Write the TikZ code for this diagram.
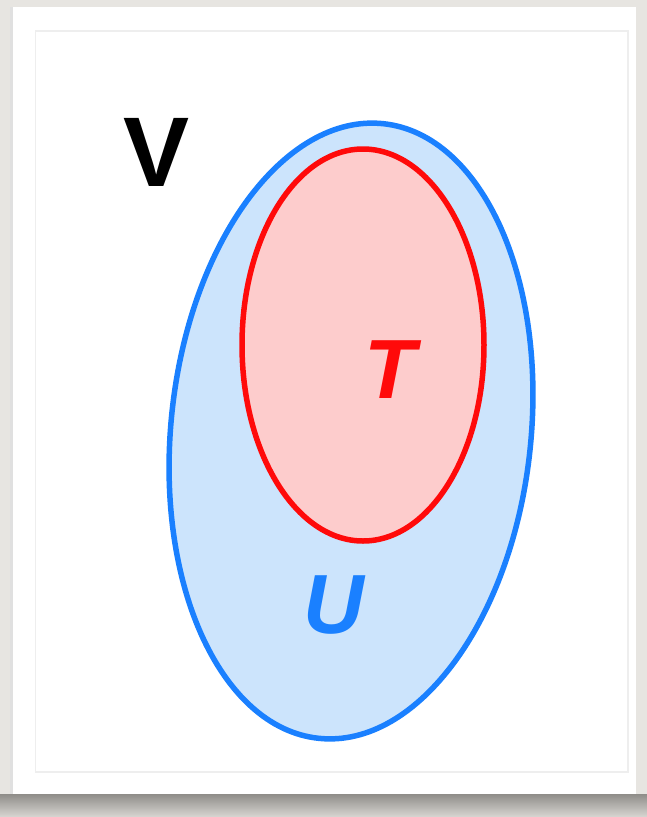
\documentclass[tikz,border=0pt]{standalone}
\usepackage{fontspec}
\setmainfont{Liberation Sans}
\usetikzlibrary{shapes.geometric}
\definecolor{bgc}{HTML}{E7E5E1}
\definecolor{shadowc}{HTML}{8F8D89}
\definecolor{shadowl}{HTML}{D8D6D2}
\definecolor{framec}{HTML}{EEEEEE}
\definecolor{ublue}{HTML}{1A80FF}
\definecolor{ufill}{HTML}{CCE4FC}
\definecolor{tred}{HTML}{FF0A0A}
\definecolor{tfill}{HTML}{FDCCCC}
\tikzset{
  setshape/.style={ellipse, inner sep=0pt, line width=5.5pt},
  setlabel/.style={inner sep=0pt, font=\fontsize{84}{84}\selectfont\bfseries\itshape},
}
\begin{document}
\begin{tikzpicture}[x=1pt,y=-1pt]
\useasboundingbox (0,0) rectangle (647,817);
\fill[bgc] (0,0) rectangle (647,817);
% shadow under card
\shade[top color=shadowc, bottom color=shadowl] (0,794) rectangle (647,817);
\fill[black!12] (10,7) rectangle (13,794);
% card
\fill[white] (13,7) rectangle (636,794);
\draw[framec, line width=1.5pt] (35.5,31) rectangle (628,772);
% sets
\node[setshape, draw=ublue, fill=ufill, minimum width=360pt, minimum height=618pt, rotate=-6] (U) at (351,431) {};
\node[setshape, draw=tred, fill=tfill, minimum width=242pt, minimum height=392pt] (T) at (363,345) {};
% labels
\node[inner sep=0pt, font=\fontsize{99}{99}\selectfont\bfseries] (vl) at (157,152) {V};
\node[setlabel, text=tred] (tl) at (390,370) {T};
\node[setlabel, text=ublue] (ul) at (334,605) {U};
\end{tikzpicture}
\end{document}
